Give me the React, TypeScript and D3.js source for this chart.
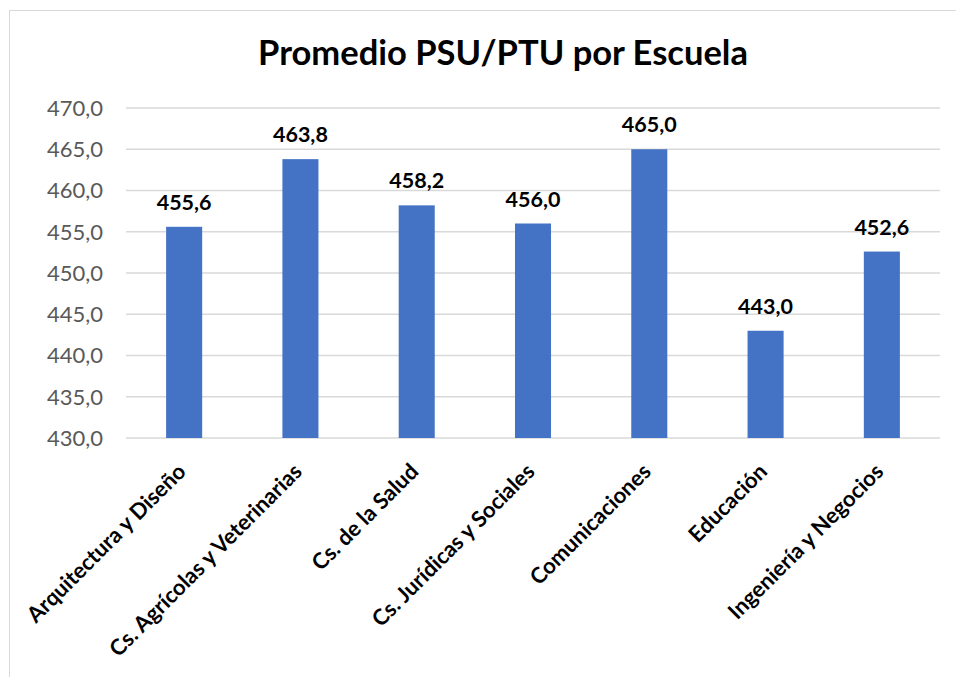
import React from "react";
import * as d3 from "d3";

const categories = [
  "Arquitectura y Diseño",
  "Cs. Agrícolas y Veterinarias",
  "Cs. de la Salud",
  "Cs. Jurídicas y Sociales",
  "Comunicaciones",
  "Educación",
  "Ingeniería y Negocios",
];
const values = [455.6, 463.8, 458.2, 456.0, 465.0, 443.0, 452.6];
const yTicks = [430, 435, 440, 445, 450, 455, 460, 465, 470];
const title = "Promedio PSU/PTU por Escuela";

const W = 956;
const H = 677;
const FONT = "Lato, 'Open Sans', sans-serif";

export default function App() {
  const left = 126;
  const right = 940;
  const top = 108;
  const bottom = 438;
  const x = d3.scaleBand<string>().domain(categories).range([left, right]).paddingInner(0.69).paddingOuter(0.345);
  const y = d3.scaleLinear().domain([430, 470]).range([bottom, top]);
  const fmt = (v: number) => v.toFixed(1).replace(".", ",");

  return (
    <svg width={W} height={H} style={{ position: "absolute", left: 0, top: 0 }}>
      <rect x={0} y={0} width={W} height={H} fill="#fff" />
      <rect x={9.5} y={10.5} width={W + 10} height={H + 10} fill="#fff" stroke="#d9d9d9" strokeWidth={1} />
      <text x={503} y={65} textAnchor="middle" fontFamily={FONT} fontWeight={700} fontSize={34.5} fill="#000">
        {title}
      </text>
      {yTicks.map((t) => (
        <g key={t}>
          <line x1={left} x2={right} y1={y(t)} y2={y(t)} stroke="#d9d9d9" strokeWidth={1.5} />
          <text x={103} y={y(t)} dy="0.36em" textAnchor="end" fontFamily={FONT} fontSize={22} fill="#595959">
            {fmt(t)}
          </text>
        </g>
      ))}
      {categories.map((c, i) => (
        <g key={c}>
          <rect x={x(c)} y={y(values[i])} width={x.bandwidth()} height={bottom - y(values[i])} fill="#4472c4" />
          <text
            x={(x(c) as number) + x.bandwidth() / 2}
            y={y(values[i]) - 17}
            textAnchor="middle"
            fontFamily={FONT}
            fontWeight={700}
            fontSize={21.5}
            fill="#000"
          >
            {fmt(values[i])}
          </text>
          <text
            transform={`translate(${(x(c) as number) + x.bandwidth() / 2 + 3},${473}) rotate(-45)`}
            textAnchor="end"
            fontFamily={FONT}
            fontWeight={700}
            fontSize={22}
            fill="#000"
          >
            {c}
          </text>
        </g>
      ))}
    </svg>
  );
}
